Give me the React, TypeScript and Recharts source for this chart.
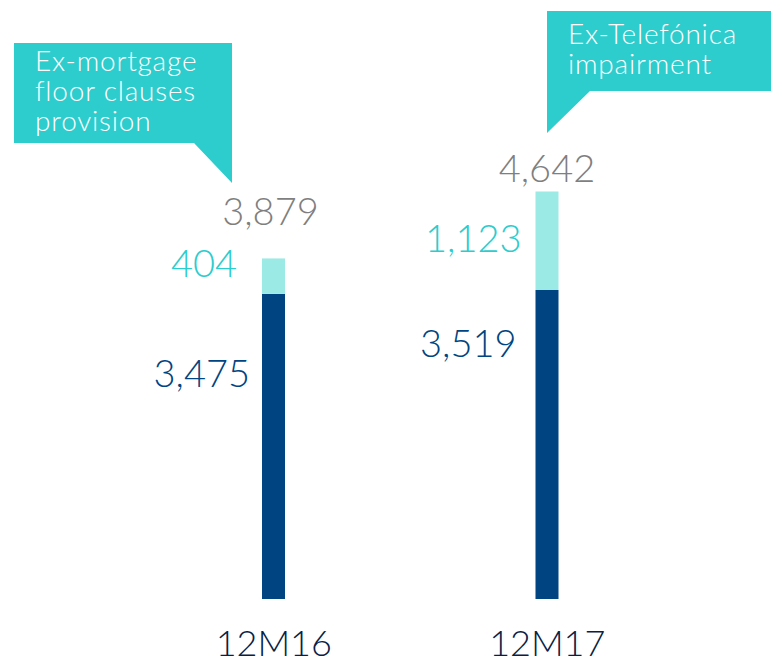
import React from 'react';
import { BarChart, Bar, XAxis, YAxis, LabelList } from 'recharts';

const periods = ['12M16', '12M17'];
const underlyingValues = [3475, 3519];
const exceptionalValues = [404, 1123];
const totalValues = [3879, 4642];
const callouts = [
  { lines: ['Ex-mortgage', 'floor clauses', 'provision'] },
  { lines: ['Ex-Telefónica', 'impairment'] },
];

const DARK = '#004481';
const LIGHT = '#9beae5';
const AQUA = '#2dcccd';
const GREY = '#7f7f7f';
const NAVY = '#072146';
const FONT = 'Lato, "Open Sans", sans-serif';

// hand placed label offsets, same as the slide
const baseLabelPos = [
  { gap: 12, dy: 93 },
  { gap: 19, dy: 67 },
];
const extraLabelPos = [
  { gap: 25, dy: 19 },
  { gap: 14, dy: 61 },
];
const totalLabelPos = [
  { dx: -3, dy: -33 },
  { dx: 0, dy: -9 },
];

const chartData = periods.map((period, i) => ({
  period,
  underlying: underlyingValues[i],
  exceptional: exceptionalValues[i],
  total: totalValues[i],
}));

const fmt = (v: number) => v.toLocaleString('en-US');

const SideLabel = (color: string, pos: { gap: number; dy: number }[]) => (props: any) => {
  const { x, y, value, index } = props;
  const p = pos[index];
  return (
    <text
      x={Number(x) - p.gap}
      y={Number(y) + p.dy}
      textAnchor="end"
      fill={color}
      fontSize={38}
      fontWeight={300}
      fontFamily={FONT}
    >
      {fmt(Number(value))}
    </text>
  );
};

const TotalLabel = (props: any) => {
  const { x, y, width, index } = props;
  const p = totalLabelPos[index];
  return (
    <text
      x={Number(x) + Number(width) / 2 + p.dx}
      y={Number(y) + p.dy}
      textAnchor="middle"
      fill={GREY}
      fontSize={38}
      fontWeight={300}
      fontFamily={FONT}
    >
      {fmt(totalValues[index])}
    </text>
  );
};

const PeriodTick = (props: any) => {
  const { x, y, payload } = props;
  return (
    <text
      x={x}
      y={y + 57}
      textAnchor="middle"
      fill={NAVY}
      fontSize={36}
      fontWeight={300}
      fontFamily={FONT}
    >
      {payload.value}
    </text>
  );
};

const Callouts = () => (
  <svg
    width={771}
    height={660}
    style={{ position: 'absolute', left: 0, top: 0, pointerEvents: 'none' }}
  >
    <polygon points="14,43 232,43 232,183 194,143 14,143" fill={AQUA} />
    <polygon points="547,11 771,11 771,91 590,91 547,133" fill={AQUA} />
    {callouts[0].lines.map((t, i) => (
      <text key={t} x={35} y={71 + i * 30} fill="#fff" fontSize={28} fontWeight={300}
        fontFamily={FONT} letterSpacing={0.8}>
        {t}
      </text>
    ))}
    {callouts[1].lines.map((t, i) => (
      <text key={t} x={568} y={44 + i * 30} fill="#fff" fontSize={28} fontWeight={300}
        fontFamily={FONT} letterSpacing={0.8}>
        {t}
      </text>
    ))}
  </svg>
);

export default function App() {
  return (
    <div style={{ position: 'absolute', left: 0, top: 0, width: 771, height: 660, background: '#fff' }}>
      <BarChart
        width={771}
        height={660}
        data={chartData}
        margin={{ top: 160, right: 87, bottom: 0, left: 137 }}
        barSize={23}
      >
        <XAxis
          dataKey="period"
          axisLine={false}
          tickLine={false}
          tickSize={0}
          tickMargin={0}
          height={61}
          tick={<PeriodTick />}
          interval={0}
        />
        <YAxis hide domain={[0, 5000]} />
        <Bar dataKey="underlying" stackId="a" fill={DARK} isAnimationActive={false}>
          <LabelList dataKey="underlying" content={SideLabel(DARK, baseLabelPos)} />
        </Bar>
        <Bar dataKey="exceptional" stackId="a" fill={LIGHT} isAnimationActive={false}>
          <LabelList dataKey="exceptional" content={SideLabel(AQUA, extraLabelPos)} />
          <LabelList dataKey="total" content={TotalLabel} />
        </Bar>
      </BarChart>
      <Callouts />
    </div>
  );
}
